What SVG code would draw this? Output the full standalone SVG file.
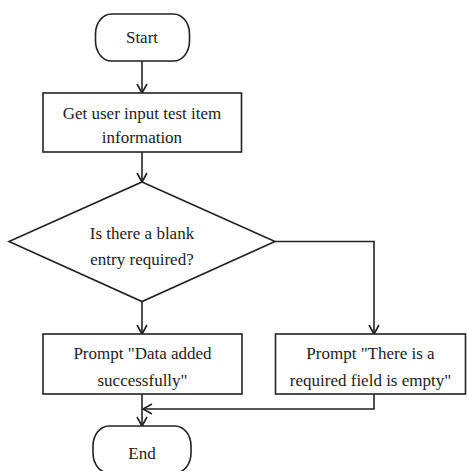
<svg xmlns="http://www.w3.org/2000/svg" width="467" height="471" viewBox="0 0 467 471">
<style>
.shape{fill:#fff;stroke:#222;stroke-width:1.6}
.lbl{font-family:"Liberation Serif","Times New Roman",serif;font-size:17px;fill:#222;text-anchor:middle}
.conn{fill:none;stroke:#222;stroke-width:1.6}
</style>
<defs>
<marker id="arr" markerWidth="12" markerHeight="12" refX="10" refY="6" orient="auto" markerUnits="userSpaceOnUse">
<path d="M1,1 L10,6 L1,11" fill="none" stroke="#222" stroke-width="1.6"/>
</marker>
</defs>
<rect width="467" height="471" fill="#fff"/>
<g id="connectors">
<path class="conn" d="M142,61 V93" marker-end="url(#arr)"/>
<path class="conn" d="M142,152 V182" marker-end="url(#arr)"/>
<path class="conn" d="M142,302 V334" marker-end="url(#arr)"/>
<path class="conn" d="M275,241.5 H374 V334" marker-end="url(#arr)"/>
<path class="conn" d="M142,394 V426" marker-end="url(#arr)"/>
<path class="conn" d="M374,394 V409 H143" marker-end="url(#arr)"/>
</g>
<g id="start">
<rect class="shape" x="95.5" y="14" width="94" height="47" rx="16" ry="20"/>
<text class="lbl" x="142" y="43">Start</text>
</g>
<g id="get-input">
<rect class="shape" x="43" y="93" width="198.5" height="59"/>
<text class="lbl" x="142" y="119">Get user input test item</text>
<text class="lbl" x="142" y="143">information</text>
</g>
<g id="decision">
<polygon class="shape" points="142,182 275,241.5 142,301.5 9,241.5"/>
<text class="lbl" x="142" y="239">Is there a blank</text>
<text class="lbl" x="142" y="265">entry required?</text>
</g>
<g id="success">
<rect class="shape" x="43" y="334" width="199" height="60"/>
<text class="lbl" x="142.5" y="359">Prompt "Data added</text>
<text class="lbl" x="142.5" y="386">successfully"</text>
</g>
<g id="empty">
<rect class="shape" x="275.5" y="334" width="190" height="60"/>
<text class="lbl" x="370.5" y="359">Prompt "There is a</text>
<text class="lbl" x="370.5" y="386">required field is empty"</text>
</g>
<g id="end">
<rect class="shape" x="93" y="426" width="98" height="47" rx="16" ry="20"/>
<text class="lbl" x="142" y="459">End</text>
</g>
</svg>
